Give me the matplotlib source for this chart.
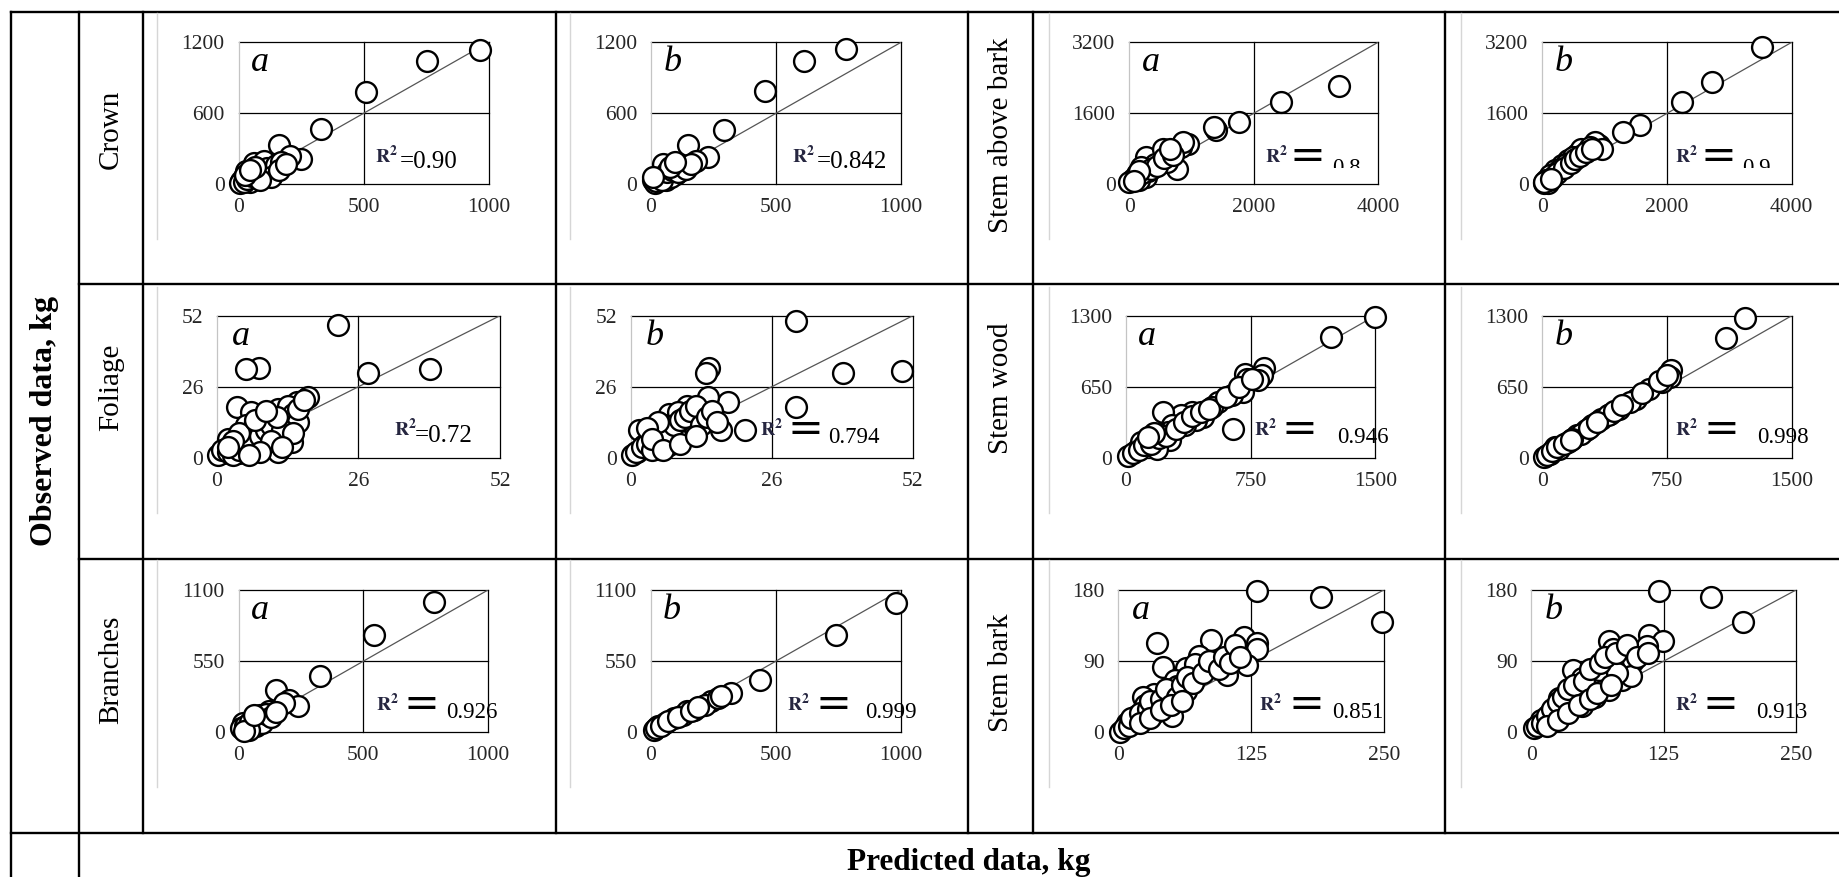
import matplotlib.pyplot as plt
from matplotlib.patches import Rectangle

W, H = 1840, 877
SERIF = ["Liberation Serif", "DejaVu Serif"]

# observed (y) vs predicted (x)
crown_a_pred = [965, 754, 511, 330, 160, 250, 205, 135, 100, 80, 60, 40, 20, 10, 50, 70, 110, 30, 90, 120, 5, 45, 140, 60, 100,
                20, 35, 55, 75, 95, 115, 150, 170, 130, 85, 25, 65, 45, 160, 190]
crown_a_obs = [1135, 1040, 784, 468, 335, 215, 240, 135, 150, 110, 130, 90, 60, 30, 50, 80, 90, 110, 60, 110, 10, 20, 170, 180, 200,
               20, 45, 70, 100, 120, 140, 160, 190, 60, 35, 75, 150, 120, 120, 170]
crown_b_pred = [779, 611, 457, 292, 150, 230, 180, 106, 53, 27, 71, 9, 124, 90, 40, 15, 60, 100, 130, 30, 80, 50,
                20, 35, 45, 65, 85, 110, 140, 160, 75, 95, 10]
crown_b_obs = [1144, 1045, 792, 455, 329, 230, 200, 174, 118, 62, 76, 34, 118, 140, 90, 15, 40, 90, 150, 40, 60, 170,
               25, 55, 35, 100, 120, 100, 130, 170, 150, 190, 60]

stem_ab_a_pred = [3377, 2442, 1770, 1395, 1359, 935, 828, 864, 758, 651, 474, 262, 403, 545, 191, 120, 50, 0, 262, 156, 300, 600,
                  100, 200, 350, 450, 550, 700, 650, 150, 80]
stem_ab_a_obs = [2226, 1851, 1401, 1214, 1289, 914, 839, 952, 352, 689, 577, 614, 465, 802, 390, 240, 127, 52, 165, 90, 300, 500,
                 150, 250, 350, 420, 600, 650, 800, 300, 80]
stem_ab_b_pred = [3524, 2721, 2238, 1563, 1300, 909, 838, 959, 554, 412, 305, 199, 128, 57, 625, 483, 767, 270, 163, 377, 20, 90,
                  100, 230, 340, 450, 520, 600, 700, 800, 30, 140]
stem_ab_b_obs = [3103, 2301, 1851, 1326, 1177, 877, 952, 802, 689, 540, 427, 315, 202, 90, 802, 615, 839, 315, 165, 465, 20, 40,
                 100, 250, 370, 480, 560, 640, 720, 800, 60, 130]

foliage_a_pred = [22.2, 7.8, 5.4, 27.7, 39.1, 16.8, 14.7, 3.7, 6.2, 8.8, 11.3, 13.4, 13.0, 5.4, 7.9, 5.0,
                  10.4, 13.0, 13.8, 2.9, 1.2, 6.2, 8.8, 11.3, 3.7, 2.0, 7.1, 9.6, 11.3, 13.8, 0.3, 4.1,
                  1, 2, 3, 4, 5, 6, 8, 9, 10, 12, 14, 15, 12, 10, 8, 6, 4, 3, 2, 15, 16, 7, 11, 9, 14, 12]
foliage_a_obs = [48.7, 33.0, 32.4, 31.2, 32.4, 22.1, 20.3, 18.5, 16.7, 15.5, 17.9, 14.3, 19.1, 11.9, 10.0, 7.0,
                 8.2, 9.4, 5.8, 3.4, 1.6, 3.4, 4.6, 2.2, 4.6, 7.0, 13.1, 13.1, 11.9, 11.9, 1.0, 1.6,
                 3, 2, 1, 3, 5, 6, 8, 10, 12, 14, 16, 13, 10, 6, 2, 1, 9, 6, 4, 18, 21, 14, 15, 17, 9, 4]
foliage_b_pred = [30.5, 14.5, 13.8, 39.1, 50.0, 30.5, 21.0, 18.0, 14.2, 16.7, 12.9, 10.4, 7.0,
                  9.6, 6.2, 2.8, 1.5, 3.6, 7.0, 2.4, 1.1, 0.3, 11.2, 8.7, 5.3, 8.3,
                  1, 2, 3, 4, 5, 6, 7, 8, 9, 10, 11, 12, 13, 14, 15, 5, 3, 4, 6, 9, 12, 16]
foliage_b_obs = [49.9, 33.0, 31.2, 31.2, 31.8, 18.5, 10.0, 20.3, 22.1, 10.0, 14.9, 19.1, 16.1,
                 11.2, 11.9, 9.4, 10.0, 7.0, 4.6, 4.6, 2.2, 1.0, 13.1, 16.7, 3.4, 7.6,
                 2, 4, 5, 3, 6, 9, 8, 12, 14, 15, 17, 19, 12, 15, 17, 13, 11, 7, 3, 5, 8, 13]

stem_wood_a_pred = [1500, 1235, 833, 820, 794, 714, 728, 701, 635, 556, 516, 643, 397, 331,
                    225, 463, 423, 278, 357, 251, 198, 159, 265, 119, 66, 13, 93, 185,
                    40, 80, 110, 150, 200, 240, 300, 350, 400, 450, 500, 600, 680, 760, 170, 130]
stem_wood_a_obs = [1291, 1107, 817, 756, 710, 771, 725, 603, 572, 511, 465, 266, 419, 388,
                   419, 373, 343, 297, 297, 236, 220, 174, 159, 113, 67, 21, 144, 83,
                   40, 70, 120, 130, 180, 200, 260, 330, 380, 420, 450, 560, 650, 720, 230, 190]
stem_wood_b_pred = [1219, 1102, 776, 769, 644, 564, 525, 458, 405, 352, 299, 260, 207, 154, 101, 48, 8, 392, 233, 180, 74, 720,
                    30, 60, 90, 130, 170, 280, 330, 430, 480, 600, 700, 750]
stem_wood_b_obs = [1282, 1092, 801, 740, 633, 541, 511, 450, 404, 358, 297, 251, 205, 144, 83, 37, 6, 388, 220, 174, 98, 690,
                   30, 60, 95, 130, 165, 275, 330, 425, 480, 590, 700, 760]

branches_a_pred = [783, 541, 325, 148, 201, 236, 113, 51, 16, 69, 7, 122, 86, 34, 180, 140,
                   25, 45, 60, 80, 95, 110, 130, 150, 40, 20, 60]
branches_a_obs = [1010, 753, 432, 329, 252, 200, 110, 98, 72, 46, 33, 162, 136, 46, 230, 150,
                  50, 80, 60, 100, 70, 140, 120, 160, 20, 10, 130]
branches_b_pred = [981, 739, 435, 320, 241, 215, 171, 127, 92, 56, 30, 12, 268, 144, 20, 40, 70, 110, 160, 190, 280]
branches_b_obs = [997, 753, 406, 303, 239, 213, 175, 136, 110, 72, 46, 21, 265, 162, 30, 50, 90, 120, 165, 195, 280]

stem_bark_a_pred = [131, 191, 248, 36, 87, 118, 131, 131, 112, 121, 102, 76, 64, 42, 74, 53,
                    64, 34, 23, 47, 38, 25, 17, 8, 2, 34, 51, 89, 72, 55, 97,
                    5, 10, 12, 20, 28, 30, 40, 45, 55, 60, 65, 70, 80, 85, 95, 100, 105, 110, 115, 20, 30, 40, 50, 60]
stem_bark_a_obs = [179, 171, 140, 113, 117, 121, 113, 106, 102, 85, 73, 96, 81, 83, 71, 66,
                   52, 48, 45, 37, 31, 35, 20, 12, 1, 24, 20, 83, 87, 58, 92,
                   5, 8, 18, 25, 30, 40, 42, 55, 45, 60, 70, 62, 75, 90, 80, 95, 88, 110, 95, 12, 18, 28, 35, 40]
stem_bark_b_pred = [121, 170, 200, 111, 124, 109, 73, 77, 96, 86, 64, 39, 48, 73, 60, 43, 26, 28, 18, 9, 3, 94, 81, 35, 48,
                    5, 10, 15, 20, 25, 30, 35, 40, 50, 55, 65, 70, 80, 90, 100, 110, 15, 25, 35, 45, 55, 62, 75]
stem_bark_b_obs = [179, 171, 140, 123, 115, 109, 115, 106, 90, 66, 79, 79, 69, 54, 45, 50, 43, 26, 24, 16, 5, 71, 75, 33, 33,
                   8, 12, 20, 30, 38, 45, 55, 60, 65, 80, 88, 95, 100, 110, 95, 100, 8, 15, 25, 35, 42, 50, 60]

# axis maxima (ticks at 0, half, max)
crown_max = (1000, 1200)
stem_ab_max = (4000, 3200)
foliage_max = (52, 52)
stem_wood_max = (1500, 1300)
branches_max = (1000, 1100)
stem_bark_max = (250, 180)

left_labels = ["Crown", "Foliage", "Branches"]
right_labels = ["Stem above bark", "Stem wood", "Stem bark"]
r2_values = ["0.90", "0.842", "0.8", "0.9", "0.72", "0.794", "0.946", "0.998",
             "0.926", "0.999", "0.851", "0.913"]

# panel boxes in pixels: left, top, right, bottom
rows_y = [(42.3, 184.3), (315.7, 457.8), (590.0, 732.3)]
panels = [
    # row, x0, x1, pred, obs, max, letter, (R x, "=" x, value x, inline, clip)
    (0, 238.6, 488.6, crown_a_pred, crown_a_obs, crown_max, "a", (0.59, 0.645, None, True, None)),
    (0, 651.0, 901.0, crown_b_pred, crown_b_obs, crown_max, "b", (0.61, 0.665, None, True, None)),
    (0, 1129.5, 1378.0, stem_ab_a_pred, stem_ab_a_obs, stem_ab_max, "a", (0.59, 0.645, 0.815, False, 0.115)),
    (0, 1542.5, 1791.7, stem_ab_b_pred, stem_ab_b_obs, stem_ab_max, "b", (0.578, 0.635, 0.80, False, 0.115)),
    (1, 216.8, 500.0, foliage_a_pred, foliage_a_obs, foliage_max, "a", (0.665, 0.70, None, True, None)),
    (1, 630.7, 912.8, foliage_b_pred, foliage_b_obs, foliage_max, "b", (0.50, 0.555, 0.70, False, None)),
    (1, 1126.0, 1375.3, stem_wood_a_pred, stem_wood_a_obs, stem_wood_max, "a", (0.56, 0.625, 0.845, False, None)),
    (1, 1542.5, 1791.7, stem_wood_b_pred, stem_wood_b_obs, stem_wood_max, "b", (0.578, 0.645, 0.86, False, None)),
    (2, 238.8, 488.0, branches_a_pred, branches_a_obs, branches_max, "a", (0.595, 0.66, 0.83, False, None)),
    (2, 650.8, 901.0, branches_b_pred, branches_b_obs, branches_max, "b", (0.589, 0.66, 0.856, False, None)),
    (2, 1118.3, 1383.7, stem_bark_a_pred, stem_bark_a_obs, stem_bark_max, "a", (0.575, 0.64, 0.805, False, None)),
    (2, 1531.3, 1796.0, stem_bark_b_pred, stem_bark_b_obs, stem_bark_max, "b", (0.585, 0.645, 0.85, False, None)),
]

plt.rcParams["font.family"] = SERIF
plt.rcParams["mathtext.fontset"] = "stix"

fig = plt.figure(figsize=(W / 100, H / 100), dpi=100)
frame = fig.add_axes([0, 0, 1, 1], zorder=0)
frame.set_xlim(0, W)
frame.set_ylim(H, 0)
frame.axis("off")

# table rules
LW = 1.7
for y, x0 in ((11.5, 11), (284.3, 78.6), (558.5, 78.6), (832.7, 11)):
    frame.plot([x0, W], [y, y], color="black", lw=LW, solid_capstyle="projecting")
for x in (11, 78.6):
    frame.plot([x, x], [11.5, H], color="black", lw=LW)
for x in (142.9, 556.0, 968.4, 1033.0, 1445.4):
    frame.plot([x, x], [11.5, 832.7], color="black", lw=LW)

# faint left edges of the pasted chart images
for x in (157.0, 570.0, 1048.7, 1461.0):
    for y0, y1 in ((13, 239), (286.7, 513), (560, 787)):
        frame.plot([x, x], [y0, y1], color="#d6d6d6", lw=1.0)

label_y = [(129, 135), (387, 388), (670, 673)]
for i in range(3):
    frame.text(110.8, label_y[i][0], left_labels[i], rotation=90, ha="center",
               va="center", fontsize=21)
    frame.text(1000.7, label_y[i][1], right_labels[i], rotation=90, ha="center",
               va="center", fontsize=21)
frame.text(44.8, 421, "Observed data, kg", rotation=90, ha="center", va="center",
           fontsize=23, fontweight="bold")
frame.text(969, 870, "Predicted data, kg", ha="center", va="baseline",
           fontsize=22.5, fontweight="bold")

for k, (row, x0, x1, pred, obs, (xmax, ymax), letter, r2) in enumerate(panels):
    top, bot = rows_y[row]
    ax = fig.add_axes([x0 / W, 1 - bot / H, (x1 - x0) / W, (bot - top) / H], zorder=1)
    ax.patch.set_alpha(0)
    ax.set_xlim(0, xmax)
    ax.set_ylim(0, ymax)
    xt = [0, xmax / 2, xmax]
    yt = [0, ymax / 2, ymax]
    ax.set_xticks(xt, [f"{v:g}" for v in xt])
    ax.set_yticks(yt, [f"{v:g}" for v in yt])
    ax.tick_params(length=0, pad=10, labelsize=15.5, labelcolor="#262626")
    for s in ax.spines.values():
        s.set_visible(False)

    for v in yt:
        ax.axhline(v, color="black", lw=0.9, clip_on=False, zorder=1)
    for v in xt[1:]:
        ax.axvline(v, color="black", lw=0.9, clip_on=False, zorder=1)
    ax.axvline(0, color="#c4c4c4", lw=0.9, clip_on=False, zorder=1)
    ax.plot([0, xmax], [0, ymax], color="#555555", lw=0.9, zorder=2)

    ax.plot(pred, obs, "o", ms=15, mfc="white", mec="black", mew=1.7,
            clip_on=False, zorder=3)

    ax.text(0.085, 0.855, letter, transform=ax.transAxes, style="italic",
            fontsize=26, ha="center", va="center", zorder=5)

    rx, ex, vx, inline, clip = r2
    ax.text(rx, 0.2, r"$\mathbf{R}^{\mathbf{2}}$", transform=ax.transAxes,
            fontsize=14, color="#262640", ha="center", va="center", zorder=5)
    if inline:
        ax.text(ex, 0.155, "=" + r2_values[k], transform=ax.transAxes,
                fontsize=18, ha="left", va="center", zorder=5)
    else:
        ax.text(ex, 0.2, "=", transform=ax.transAxes, family="DejaVu Sans",
                fontsize=31, ha="left", va="center", zorder=5)
        if clip is not None:
            t = ax.text(vx, 0.11, r2_values[k], transform=ax.transAxes,
                        fontsize=16.5, ha="left", va="center", zorder=5,
                        clip_on=True)
            t.set_clip_path(Rectangle((0, clip), 2, 1, transform=ax.transAxes))
        else:
            ax.text(vx, 0.14, r2_values[k], transform=ax.transAxes, fontsize=16.5,
                    ha="left", va="center", zorder=5, clip_on=False)

fig.savefig("out.png", dpi=100, facecolor="white")
